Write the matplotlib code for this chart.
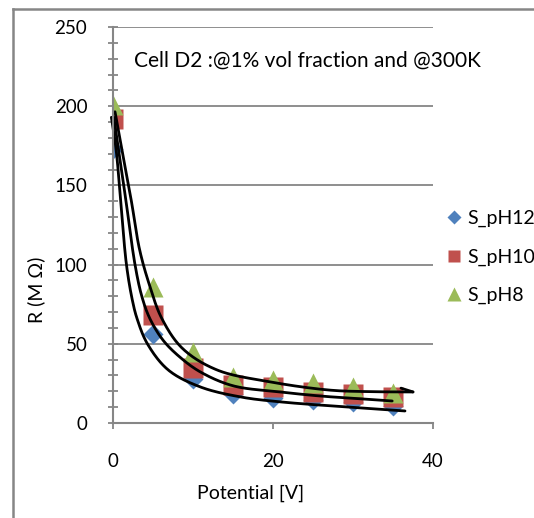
import matplotlib
matplotlib.use("Agg")
import matplotlib.pyplot as plt
from matplotlib.lines import Line2D
import numpy as np

plt.rcParams['font.family'] = ['Lato', 'DejaVu Sans']

# measured points
potential = [0, 5, 10, 15, 20, 25, 30, 35]
r_ph12 = [173, 56, 28, 18, 16, 14.5, 13, 11]
r_ph10 = [192, 68, 35, 24, 22.5, 19.5, 18, 16.5]
r_ph8 = [201, 86, 45, 29, 27, 25, 23, 19]

# hand-drawn guide curves (traced)
low_v = [-0.2, 0.4, 0.95, 1.68, 2.4, 3.0, 4.3, 6.9, 10.9, 16, 21, 29.6, 36.5]
low_r = [193, 172, 141, 100, 78, 66, 50, 33.5, 22.8, 16.4, 13.3, 10, 7.6]
mid_v = [0.1, 0.9, 1.6, 2.75, 3.6, 4.6, 6.3, 8.5, 11, 15, 20.9, 26, 30, 34.9]
mid_r = [193, 165, 141, 100, 80, 66, 52, 41, 32, 23.5, 19.6, 17, 15.6, 13.9]
up_v = [0.25, 1.2, 2.3, 3.3, 4.5, 6.1, 8.7, 13, 19.6, 27, 32, 37.5]
up_r = [196.5, 170, 140, 110, 88, 66, 47, 33.5, 26, 20.8, 19.8, 19.6]
hook_v = [37.5, 36]
hook_r = [19.6, 22]

gray = '#868686'


def smooth(xs, ys, n=24, alpha=0.5):
    # centripetal catmull-rom through the traced points, in pixel-like units
    p = np.column_stack([np.array(xs) * 8.0, np.array(ys) * 1.584])
    p = np.vstack([2 * p[0] - p[1], p, 2 * p[-1] - p[-2]])
    out = []
    for i in range(1, len(p) - 2):
        p0, p1, p2, p3 = p[i - 1], p[i], p[i + 1], p[i + 2]
        t0 = 0.0
        t1 = t0 + np.linalg.norm(p1 - p0) ** alpha
        t2 = t1 + np.linalg.norm(p2 - p1) ** alpha
        t3 = t2 + np.linalg.norm(p3 - p2) ** alpha
        for t in np.linspace(t1, t2, n, endpoint=False):
            a1 = (t1 - t) / (t1 - t0) * p0 + (t - t0) / (t1 - t0) * p1
            a2 = (t2 - t) / (t2 - t1) * p1 + (t - t1) / (t2 - t1) * p2
            a3 = (t3 - t) / (t3 - t2) * p2 + (t - t2) / (t3 - t2) * p3
            b1 = (t2 - t) / (t2 - t0) * a1 + (t - t0) / (t2 - t0) * a2
            b2 = (t3 - t) / (t3 - t1) * a2 + (t - t1) / (t3 - t1) * a3
            out.append((t2 - t) / (t2 - t1) * b1 + (t - t1) / (t2 - t1) * b2)
    out.append(p[-2])
    out = np.array(out)
    return out[:, 0] / 8.0, out[:, 1] / 1.584


fig = plt.figure(figsize=(5.34, 5.18), dpi=100)
ax = fig.add_axes([113 / 534, 1 - 423 / 518, 320 / 534, 396 / 518])

ax.plot(potential, r_ph12, ls='none', marker='D', ms=10, color='#4F81BD', mec='none')
ax.plot(potential, r_ph10, ls='none', marker='s', ms=14, color='#C0504D', mec='none')
ax.plot(potential, r_ph8, ls='none', marker='^', ms=14, color='#9BBB59', mec='none')

for vv, rr in [(low_v, low_r), (mid_v, mid_r), (up_v, up_r)]:
    sx, sy = smooth(vv, rr)
    ax.plot(sx, sy, color='black', lw=2.0, solid_capstyle='round', solid_joinstyle='round',
            clip_on=False)
ax.plot(hook_v, hook_r, color='black', lw=2.0, solid_capstyle='round', clip_on=False)

ax.set_xlim(0, 40)
ax.set_ylim(0, 250)
ax.set_xticks([0, 20, 40])
ax.set_yticks([0, 50, 100, 150, 200, 250])
ax.set_yticks(range(0, 251, 10), minor=True)
ax.grid(axis='y', color=gray, lw=1.3)
ax.set_axisbelow(True)
for s in ['top', 'right']:
    ax.spines[s].set_visible(False)
for s in ['left', 'bottom']:
    ax.spines[s].set_color(gray)
    ax.spines[s].set_linewidth(1.5)
ax.tick_params(axis='x', direction='out', length=4.5, width=1.3, color=gray, pad=17, labelsize=13.5)
ax.tick_params(axis='y', which='both', direction='inout', length=7, width=1.3, color=gray, pad=15, labelsize=13.5)

ax.set_xlabel('Potential [V]', fontsize=14)
ax.xaxis.set_label_coords((251 - 113) / 320, -(485 - 423) / 396)
ax.set_ylabel('R (M Ω)', fontsize=14)
ax.yaxis.set_label_coords(-(113 - 45) / 320, (423 - 290) / 396)

fig.text(134 / 534, 1 - 61 / 518, 'Cell D2 :@1% vol fraction and @300K', fontsize=15, va='center', ha='left')

handles = [
    Line2D([], [], ls='none', marker='D', ms=7.5, color='#4F81BD', mec='none'),
    Line2D([], [], ls='none', marker='s', ms=9, color='#C0504D', mec='none'),
    Line2D([], [], ls='none', marker='^', ms=10, color='#9BBB59', mec='none'),
]
fig.legend(handles, ['S_pH12', 'S_pH10', 'S_pH8'], loc='upper left',
           bbox_to_anchor=(440 / 534, 1 - 202 / 518), frameon=False, fontsize=14,
           handlelength=0.6, handletextpad=0.4, labelspacing=1.1, borderaxespad=0)

fig.add_artist(Line2D([13 / 534, 13 / 534], [0, 1 - 9 / 518], color=gray, lw=1.8))
fig.add_artist(Line2D([13 / 534, 1], [1 - 9 / 518, 1 - 9 / 518], color=gray, lw=1.8))

fig.savefig('out.png', dpi=100)
